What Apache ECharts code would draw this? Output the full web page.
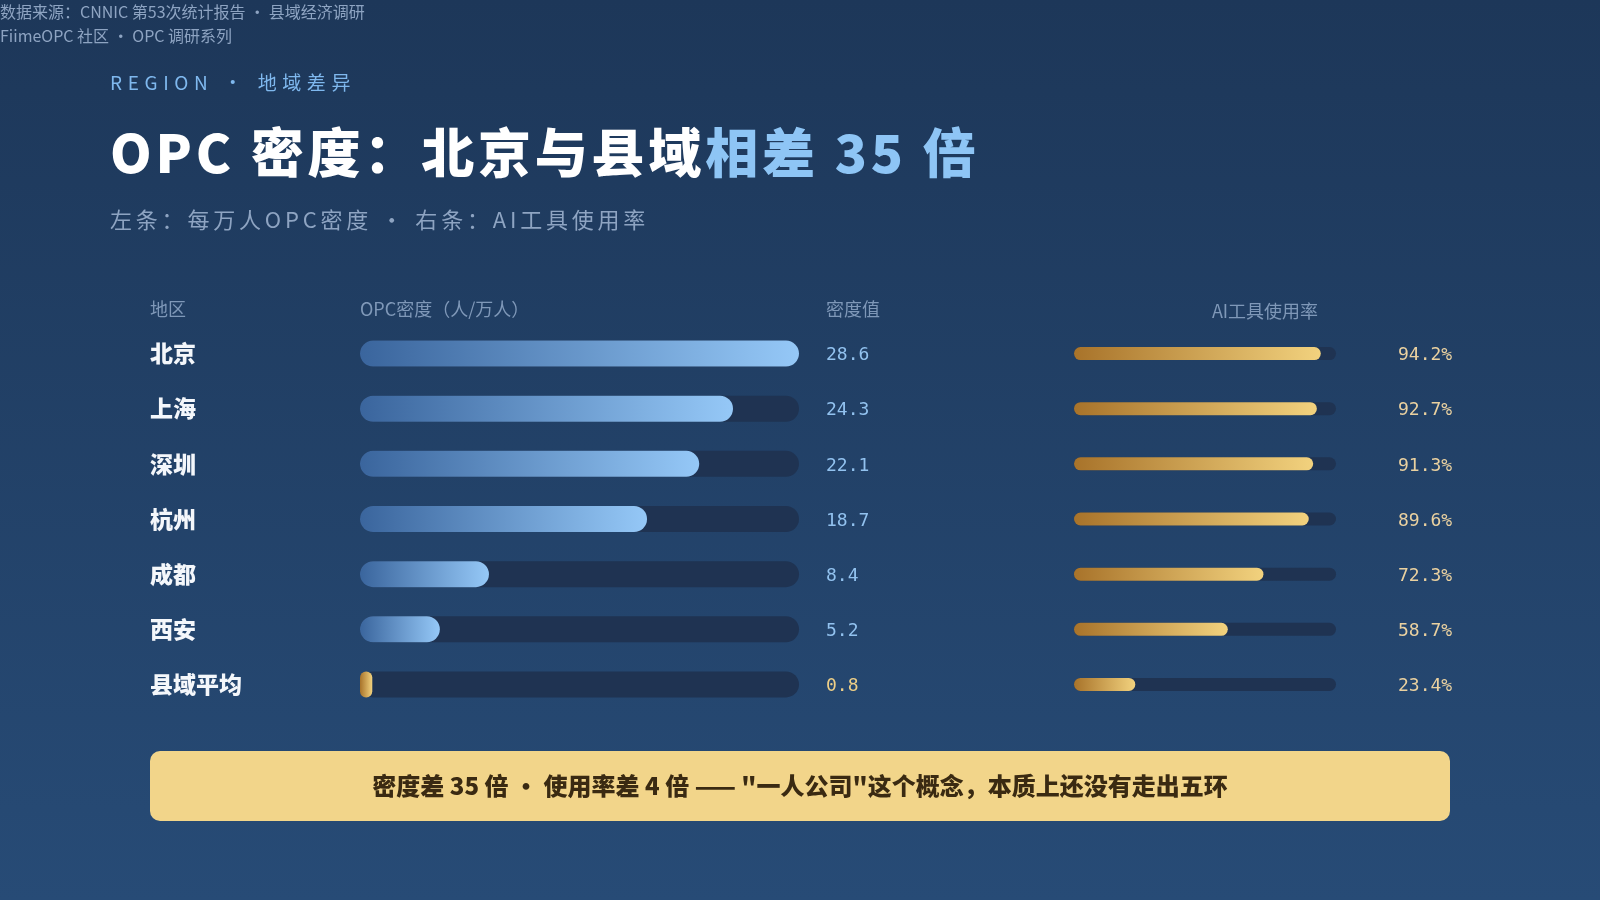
<!DOCTYPE html>
<html>
<head>
<meta charset="utf-8">
<script src="https://cdn.jsdelivr.net/npm/echarts@6/dist/echarts.min.js"></script>
<style>
html,body{margin:0;padding:0;width:1600px;height:900px;overflow:hidden;background:#22416a;}
#chart{width:1600px;height:900px;}
</style>
</head>
<body>
<div id="chart"></div>
<script>
// ---- data ----
const regions = ['北京', '上海', '深圳', '杭州', '成都', '西安', '县域平均'];
const density = [28.6, 24.3, 22.1, 18.7, 8.4, 5.2, 0.8];
const aiRate = [94.2, 92.7, 91.3, 89.6, 72.3, 58.7, 23.4];
const highlightRegion = '县域平均';
const densityMax = 28.6;
const rateMax = 100;

// ---- styles ----
const CJK = '"Noto Sans CJK SC", "Noto Sans", sans-serif';
const MONO = '"DejaVu Sans Mono", "Liberation Mono", monospace';
const grad = (a, b) => new echarts.graphic.LinearGradient(0, 0, 1, 0, [{offset: 0, color: a}, {offset: 1, color: b}]);
const blueGrad = () => grad('#3a659d', '#95c8f7');
const goldGrad = () => grad('#a8732a', '#f2d27e');
const trackColor = '#1f3352';

// letter-spaced rich text helper
const spaced = (str, key) => Array.from(str).map(c => '{' + key + '|' + c + '}').join('');

const chart = echarts.init(document.getElementById('chart'));

const gridTop = 326, gridH = 386;

const option = {
  backgroundColor: new echarts.graphic.LinearGradient(0, 0, 0, 1, [
    {offset: 0, color: '#1d3759'}, {offset: 1, color: '#274b76'}
  ]),
  animation: false,
  grid: [
    {left: 360, width: 439, top: gridTop, height: gridH},
    {left: 1074, width: 262, top: gridTop, height: gridH}
  ],
  xAxis: [
    {gridIndex: 0, type: 'value', min: 0, max: densityMax, show: false},
    {gridIndex: 1, type: 'value', min: 0, max: rateMax, show: false}
  ],
  yAxis: [
    {
      gridIndex: 0, type: 'category', data: regions, inverse: true,
      axisLine: {show: false}, axisTick: {show: false}, splitLine: {show: false},
      axisLabel: {
        align: 'left', margin: 210, color: '#f4f7fb', fontSize: 23, fontWeight: 900, fontFamily: CJK
      }
    },
    {
      gridIndex: 1, type: 'category', data: regions, inverse: true,
      axisLine: {show: false}, axisTick: {show: false}, splitLine: {show: false}, axisLabel: {show: false}
    }
  ],
  series: [
    {
      type: 'bar', xAxisIndex: 0, yAxisIndex: 0, silent: true,
      data: density.map(() => densityMax),
      barWidth: 26, barGap: '-100%', z: 1,
      itemStyle: {color: trackColor, borderRadius: 13},
      label: {
        show: true, position: 'right', distance: 27, offset: [0, 2], fontFamily: MONO, fontSize: 18,
        formatter: p => regions[p.dataIndex] === highlightRegion ? '{g|' + density[p.dataIndex].toFixed(1) + '}' : '{b|' + density[p.dataIndex].toFixed(1) + '}',
        rich: {
          b: {color: '#92c2ef', fontFamily: MONO, fontSize: 18},
          g: {color: '#eecf87', fontFamily: MONO, fontSize: 18}
        }
      }
    },
    {
      type: 'bar', xAxisIndex: 0, yAxisIndex: 0,
      data: density.map((v, i) => ({
        value: v,
        itemStyle: {color: regions[i] === highlightRegion ? goldGrad() : blueGrad()}
      })),
      barWidth: 26, z: 2,
      itemStyle: {borderRadius: 13}
    },
    {
      type: 'bar', xAxisIndex: 1, yAxisIndex: 1, silent: true,
      data: aiRate.map(() => rateMax),
      barWidth: 13, barGap: '-100%', z: 1,
      itemStyle: {color: trackColor, borderRadius: 7},
      label: {
        show: true, position: 'right', distance: 62, offset: [0, 2], fontFamily: MONO, fontSize: 18, color: '#ead1a0',
        formatter: p => aiRate[p.dataIndex].toFixed(1) + '%'
      }
    },
    {
      type: 'bar', xAxisIndex: 1, yAxisIndex: 1,
      data: aiRate,
      barWidth: 13, z: 2,
      itemStyle: {color: goldGrad(), borderRadius: 7}
    }
  ],
  graphic: [
    {type: 'text', left: 0, top: 4, style: {text: '数据来源：CNNIC 第53次统计报告 · 县域经济调研', fill: '#8ea4c2', font: '16px ' + CJK}},
    {type: 'text', left: 0, top: 28, style: {text: 'FiimeOPC 社区 · OPC 调研系列', fill: '#8ea4c2', font: '16px ' + CJK}},
    {type: 'text', x: 110, y: 83, style: {
      text: spaced('REGION · 地域差异', 'r'),
      rich: {r: {fill: '#7fb8ee', font: '19px ' + CJK, padding: [0, 5.6, 0, 0]}},
      textVerticalAlign: 'middle', verticalAlign: 'middle'
    }},
    {type: 'text', x: 110, y: 153, style: {
      text: spaced('OPC 密度：北京与县域', 'a') + spaced('相差 35 倍', 'b'),
      rich: {
        a: {fill: '#ffffff', font: '900 53px ' + CJK, padding: [0, 3.8, 0, 0]},
        b: {fill: '#8ec5f5', font: '900 53px ' + CJK, padding: [0, 3.8, 0, 0]}
      },
      textVerticalAlign: 'middle', verticalAlign: 'middle'
    }},
    {type: 'text', x: 110, y: 220, style: {
      text: spaced('左条：每万人OPC密度 · 右条：AI工具使用率', 's'),
      rich: {s: {fill: '#8ea4c2', font: '22px ' + CJK, padding: [0, 3.8, 0, 0]}},
      textVerticalAlign: 'middle', verticalAlign: 'middle'
    }},
    {type: 'text', left: 150, top: 300, style: {text: '地区', fill: '#7f98b8', font: '18px ' + CJK}},
    {type: 'text', left: 360, top: 300, style: {text: 'OPC密度（人/万人）', fill: '#7f98b8', font: '18px ' + CJK}},
    {type: 'text', left: 826, top: 300, style: {text: '密度值', fill: '#7f98b8', font: '18px ' + CJK}},
    {type: 'text', x: 1265, y: 311, style: {text: 'AI工具使用率', fill: '#7f98b8', font: '18px ' + CJK, textAlign: 'center', textVerticalAlign: 'middle'}},
    {type: 'rect', shape: {x: 150, y: 751, width: 1300, height: 70, r: 10}, style: {fill: '#f2d58a'}},
    {type: 'text', x: 800, y: 786, style: {text: '密度差 35 倍 · 使用率差 4 倍 —— "一人公司"这个概念，本质上还没有走出五环', fill: '#3a2a12', font: '900 24px ' + CJK, textAlign: 'center', textVerticalAlign: 'middle'}}
  ]
};
chart.setOption(option);
</script>
</body>
</html>
